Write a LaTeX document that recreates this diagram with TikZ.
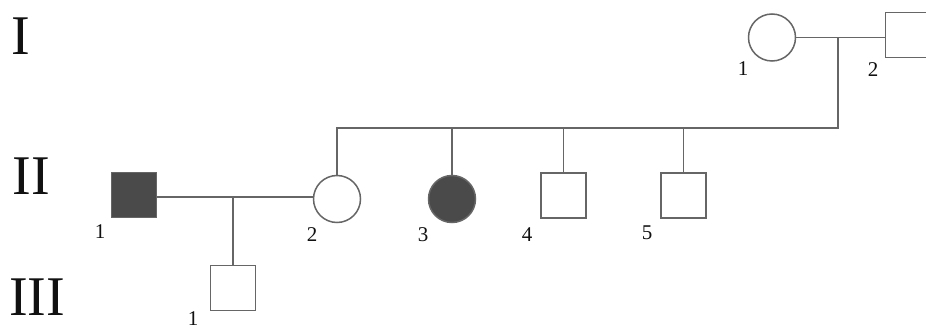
\documentclass[tikz,border=0pt]{standalone}
\usepackage{fontspec}
\setmainfont{Liberation Serif}
\definecolor{linegray}{HTML}{666666}
\definecolor{fillgray}{HTML}{4A4A4A}
\definecolor{inkblack}{HTML}{111111}
\begin{document}
\begin{tikzpicture}[x=1pt,y=-1pt,
  line/.style={draw=linegray, line width=1.5pt},
  male/.style={rectangle, line, fill=white, minimum size=45pt, inner sep=0pt},
  female/.style={circle, line, fill=white, minimum size=47pt, inner sep=0pt},
  affected/.style={fill=fillgray},
  gen/.style={text=inkblack, inner sep=0pt, font=\fontsize{56}{60}\selectfont},
  num/.style={text=inkblack, inner sep=0pt, font=\fontsize{21}{24}\selectfont}]
\useasboundingbox (0,0) rectangle (926,331);
\clip (0,0) rectangle (926,331);
\fill[white] (0,0) rectangle (926,331);
% generation labels
\node[gen] (gI) at (21,36) {I};
\node[gen] (gII) at (31,176) {II};
\node[gen] (gIII) at (37,297) {III};
% individuals
\node[female] (i1) at (772,37.5) {};
\node[male] (i2) at (908,35) {};
\node[male, affected] (ii1) at (134,195) {};
\node[female] (ii2) at (337,199) {};
\node[female, affected] (ii3) at (452,199) {};
\node[male] (ii4) at (563.5,195.5) {};
\node[male] (ii5) at (683.5,195.5) {};
\node[male] (iii1) at (233,288) {};
% connectors
\coordinate (c1) at (838,37.5);
\coordinate (sibR) at (838,128);
\coordinate (sibL) at (337,128);
\coordinate (c2) at (233,197);
\draw[line] (i1.east) -- (i1.east -| i2.west);
\draw[line] (c1) -- (sibR) -- (sibL) -- (ii2.north);
\draw[line] (ii3.north) -- (ii3.north |- sibR);
\draw[line] (ii4.north) -- (ii4.north |- sibR);
\draw[line] (ii5.north) -- (ii5.north |- sibR);
\draw[line] (ii1.east |- c2) -- (ii2.west |- c2);
\draw[line] (c2) -- (iii1.north);
% numbers
\node[num] (n1) at (743,69) {1};
\node[num] (n2) at (873,70) {2};
\node[num] (n3) at (100,232) {1};
\node[num] (n4) at (312,235) {2};
\node[num] (n5) at (423,235) {3};
\node[num] (n6) at (527,235) {4};
\node[num] (n7) at (647,233) {5};
\node[num] (n8) at (193,319) {1};
\end{tikzpicture}
\end{document}
